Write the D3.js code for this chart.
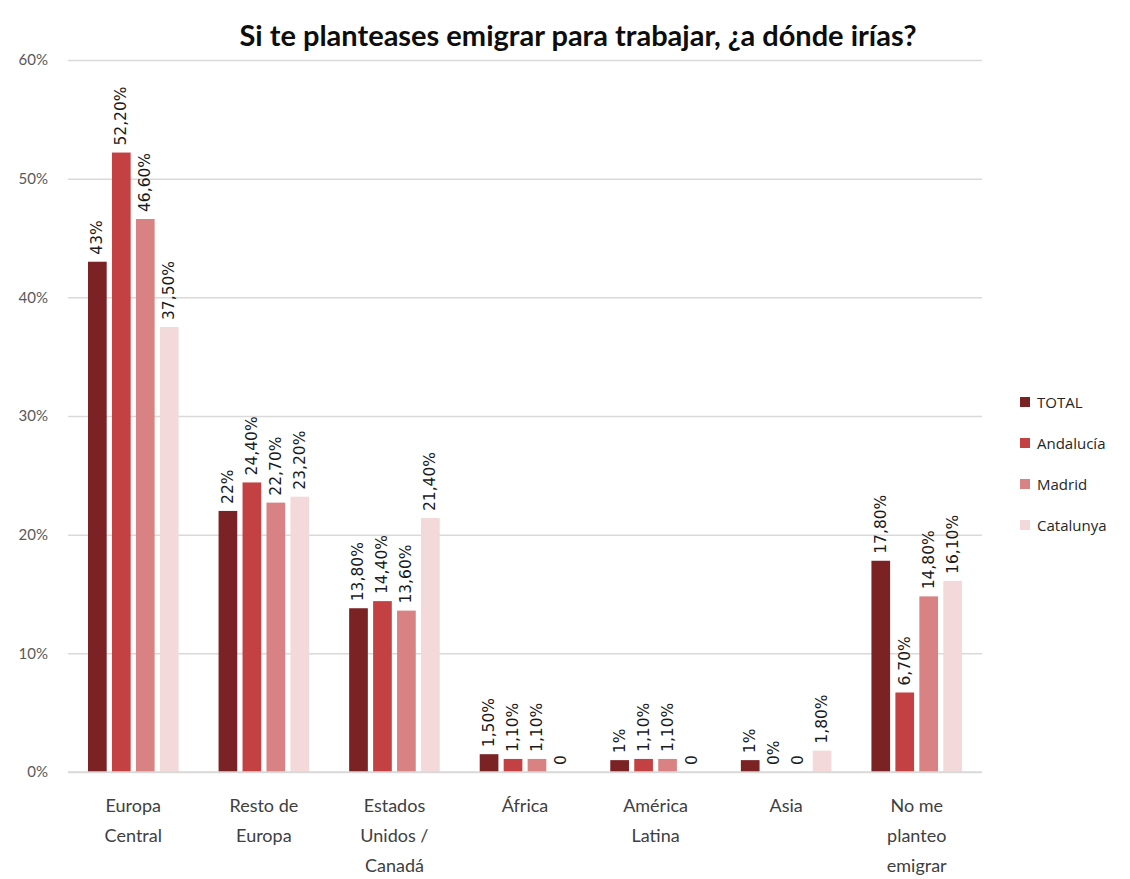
<!DOCTYPE html>
<html>
<head>
<meta charset="utf-8">
<script src="https://cdn.jsdelivr.net/npm/d3@7"></script>
<style>
  body { margin: 0; background: #fff; }
  svg { display: block; }
</style>
</head>
<body>
<div id="chart"></div>
<script>
// categories (x axis), split into lines the way they are shown
const categories = [
  ["Europa", "Central"],
  ["Resto de", "Europa"],
  ["Estados", "Unidos /", "Canadá"],
  ["África"],
  ["América", "Latina"],
  ["Asia"],
  ["No me", "planteo", "emigrar"]
]
const seriesNames = ["TOTAL", "Andalucía", "Madrid", "Catalunya"]

// values in percent, one array per series
const total     = [43, 22, 13.8, 1.5, 1, 1, 17.8]
const andalucia = [52.2, 24.4, 14.4, 1.1, 1.1, 0, 6.7]
const madrid    = [46.6, 22.7, 13.6, 1.1, 1.1, 0, 14.8]
const catalunya = [37.5, 23.2, 21.4, 0, 0, 1.8, 16.1]

// data labels as printed on the chart
const totalLabels     = ["43%", "22%", "13,80%", "1,50%", "1%", "1%", "17,80%"]
const andaluciaLabels = ["52,20%", "24,40%", "14,40%", "1,10%", "1,10%", "0%", "6,70%"]
const madridLabels    = ["46,60%", "22,70%", "13,60%", "1,10%", "1,10%", "0", "14,80%"]
const catalunyaLabels = ["37,50%", "23,20%", "21,40%", "0", "0", "1,80%", "16,10%"]

const yTicks = [0, 10, 20, 30, 40, 50, 60]

const colors = ["#7b2225", "#c44143", "#d98283", "#f3d9d9"]

const draw = () => {
  const series = [total, andalucia, madrid, catalunya]
  const labels = [totalLabels, andaluciaLabels, madridLabels, catalunyaLabels]

  // build rows: one object per category
  const data = categories.map((c, i) => ({
    cat: i,
    lines: c,
    bars: series.map((s, j) => ({ key: j, value: s[i], label: labels[j][i] }))
  }))

  const dimensions = {
    width: 1130,
    height: 879,
    margin: { top: 60, bottom: 107, left: 68, right: 148 }
  }
  dimensions.ctrWidth = dimensions.width - dimensions.margin.left - dimensions.margin.right
  dimensions.ctrHeight = dimensions.height - dimensions.margin.top - dimensions.margin.bottom

  const svg = d3.select('#chart')
    .append('svg')
    .attr('width', dimensions.width)
    .attr('height', dimensions.height)

  const ctr = svg.append('g')
    .attr('transform', `translate(${dimensions.margin.left}, ${dimensions.margin.top})`)

  // scales
  const xScale = d3.scaleBand()
    .domain(data.map(d => d.cat))
    .range([0, dimensions.ctrWidth])

  const xInner = d3.scaleBand()
    .domain(d3.range(series.length))
    .range([20, xScale.bandwidth() - 20])
    .paddingInner(0.22)

  const yScale = d3.scaleLinear()
    .domain([0, 60])
    .range([dimensions.ctrHeight, 0])

  // gridlines + y axis
  const yAxis = d3.axisLeft(yScale)
    .tickValues(yTicks)
    .tickSize(-dimensions.ctrWidth)
    .tickPadding(20)
    .tickFormat(d => d + '%')

  const yAxisGroup = ctr.append('g').call(yAxis)
  yAxisGroup.select('.domain').remove()
  yAxisGroup.selectAll('.tick line')
    .attr('stroke', '#d9d9d9')
    .attr('stroke-width', 1.5)
  yAxisGroup.selectAll('.tick text')
    .attr('fill', '#595959')
    .style('font-family', 'Lato, sans-serif')
    .style('font-size', '15px')

  // bars
  const groups = ctr.selectAll('.group')
    .data(data)
    .join('g')
    .attr('class', 'group')
    .attr('transform', d => `translate(${xScale(d.cat)}, 0)`)

  groups.selectAll('rect')
    .data(d => d.bars)
    .join('rect')
    .attr('x', d => xInner(d.key))
    .attr('y', d => yScale(d.value))
    .attr('width', xInner.bandwidth())
    .attr('height', d => dimensions.ctrHeight - yScale(d.value))
    .attr('fill', d => colors[d.key])

  // data labels (rotated)
  groups.selectAll('text.lbl')
    .data(d => d.bars)
    .join('text')
    .attr('class', 'lbl')
    .attr('transform', d => `translate(${xInner(d.key) + xInner.bandwidth() / 2}, ${yScale(d.value) - 7}) rotate(-90)`)
    .attr('dominant-baseline', 'central')
    .attr('fill', '#1a1a1a')
    .style('font-family', '"DejaVu Sans", sans-serif')
    .style('font-size', '15.5px')
    .text(d => d.label)

  // x axis baseline
  ctr.append('line')
    .attr('x1', 0)
    .attr('x2', dimensions.ctrWidth)
    .attr('y1', dimensions.ctrHeight)
    .attr('y2', dimensions.ctrHeight)
    .attr('stroke', '#d9d9d9')
    .attr('stroke-width', 1.5)

  // category labels
  const catText = groups.append('text')
    .attr('text-anchor', 'middle')
    .attr('fill', '#404040')
    .style('font-family', 'Lato, sans-serif')
    .style('font-size', '18px')
  catText.selectAll('tspan')
    .data(d => d.lines)
    .join('tspan')
    .attr('x', xScale.bandwidth() / 2)
    .attr('y', (d, i) => dimensions.ctrHeight + 40 + i * 30)
    .text(d => d)

  // legend
  const legend = svg.append('g')
    .attr('transform', 'translate(1020, 402)')
  const items = legend.selectAll('g')
    .data(seriesNames)
    .join('g')
    .attr('transform', (d, i) => `translate(0, ${i * 41})`)
  items.append('rect')
    .attr('x', 0)
    .attr('y', -5)
    .attr('width', 10)
    .attr('height', 10)
    .attr('fill', (d, i) => colors[i])
  items.append('text')
    .attr('x', 17)
    .attr('dominant-baseline', 'central')
    .attr('fill', '#262626')
    .style('font-family', '"Open Sans", sans-serif')
    .style('font-size', '15px')
    .text(d => d)

  // title
  svg.append('text')
    .attr('x', 578)
    .attr('y', 46)
    .attr('text-anchor', 'middle')
    .attr('fill', '#0d0d0d')
    .style('font-family', 'Lato, sans-serif')
    .style('font-weight', 'bold')
    .style('font-size', '29px')
    .text('Si te planteases emigrar para trabajar, ¿a dónde irías?')
}

draw()
</script>
</body>
</html>
